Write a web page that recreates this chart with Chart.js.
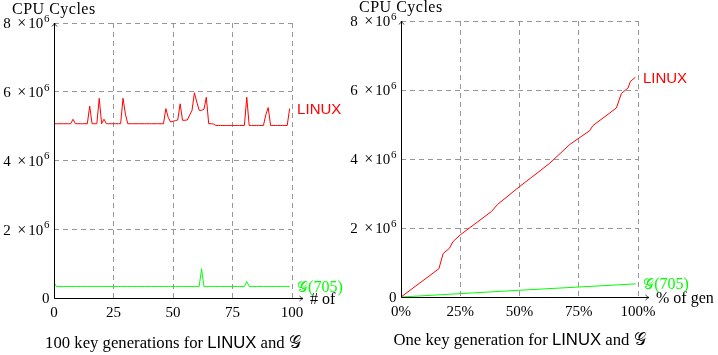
<!DOCTYPE html>
<html><head><meta charset="utf-8">
<script src="https://cdn.jsdelivr.net/npm/chart.js@4.4.1/dist/chart.umd.min.js"></script>
<style>
html,body{margin:0;padding:0;background:#fff;width:718px;height:355px;overflow:hidden}
canvas{position:absolute;top:0}
#c1{left:0}
#c2{left:345px}
</style></head><body>
<canvas id="c1" width="345" height="355"></canvas>
<canvas id="c2" width="373" height="355"></canvas>
<script>
// ---------- DATA (CPU cycles, in millions) ----------
// Left: 100 key generations, index 0..99
const linuxRepeatedMillions = [
  5.07,5.07,5.07,5.07,5.07,5.07,5.07,5.07,5.20,5.07,
  5.07,5.07,5.07,5.07,5.07,5.58,5.07,5.07,5.07,5.81,
  5.07,5.20,5.07,5.07,5.07,5.07,5.07,5.07,5.07,5.81,
  5.35,5.07,5.07,5.07,5.07,5.07,5.07,5.07,5.07,5.07,
  5.07,5.07,5.07,5.07,5.07,5.07,5.07,5.51,5.25,5.12,
  5.14,5.16,5.18,5.65,5.17,5.17,5.18,5.32,5.46,5.97,
  5.70,5.46,5.46,5.49,5.84,5.07,5.07,5.06,5.02,5.02,
  5.02,5.02,5.02,5.02,5.02,5.02,5.02,5.02,5.02,5.02,
  5.02,5.84,5.02,5.02,5.02,5.02,5.02,5.02,5.02,5.33,
  5.54,5.02,5.02,5.02,5.02,5.02,5.02,5.02,5.02,5.51
];
const gRepeatedMillions = [
  0.45,0.336,0.336,0.336,0.336,0.336,0.336,0.336,0.336,0.336,
  0.336,0.336,0.336,0.336,0.336,0.336,0.336,0.336,0.336,0.336,
  0.336,0.336,0.336,0.336,0.336,0.336,0.336,0.336,0.336,0.336,
  0.336,0.336,0.336,0.336,0.336,0.336,0.336,0.336,0.336,0.336,
  0.336,0.336,0.336,0.336,0.336,0.336,0.336,0.336,0.336,0.336,
  0.336,0.336,0.336,0.336,0.336,0.336,0.336,0.336,0.336,0.336,
  0.336,0.336,0.85,0.336,0.336,0.336,0.336,0.336,0.336,0.336,
  0.336,0.336,0.336,0.336,0.336,0.336,0.336,0.336,0.336,0.336,
  0.336,0.48,0.336,0.336,0.336,0.336,0.336,0.336,0.336,0.336,
  0.336,0.336,0.336,0.336,0.336,0.336,0.336,0.336,0.336,0.336
];
// Right: one key generation, % of generation vs cumulative cycles
const linuxOneGenPct      = [0, 16, 17.8, 20.4, 22, 25, 38.2, 40.7, 50, 57.4, 62.8, 71.2, 79.6, 81, 90.9, 93, 95.8, 96.8, 98.9];
const linuxOneGenMillions = [0, 0.82, 1.26, 1.41, 1.61, 1.80, 2.48, 2.68, 3.20, 3.59, 3.88, 4.42, 4.82, 4.97, 5.48, 5.90, 6.06, 6.25, 6.37];
const gOneGenPct      = [0, 46, 99];
const gOneGenMillions = [0, 0.18, 0.38];

const leftXTicks  = [0, 25, 50, 75, 100];
const rightXTicks = ['0%', '25%', '50%', '75%', '100%'];
const yTickMillions = [0, 2, 4, 6, 8];

const seriesNames = ['LINUX', '𝒢(705)'];
const leftCaption  = ['100 key generations for ', 'LINUX', ' and ', '𝒢'];
const rightCaption = ['One key generation for ', 'LINUX', ' and ', '𝒢'];
const yTitle = 'CPU Cycles';
const leftXTitle = '# of';
const rightXTitle = '% of gen';

// ---------- STYLE ----------
const SERIF = '"Liberation Serif", "DejaVu Serif", serif';
const SANS  = '"Liberation Sans", Arial, sans-serif';
const SCRIPT = '"DejaVu Serif", "DejaVu Sans", serif';
const RED = 'rgb(255,0,0)';
const GREEN = 'rgb(0,255,0)';

function segW(ctx, segs){
  let w = 0;
  for (const s of segs){ ctx.font = s.font; w += ctx.measureText(s.text).width + (s.dx||0); }
  return w;
}
function drawRich(ctx, segs, x, y, align){
  const w = segW(ctx, segs);
  let cx = align === 'center' ? x - w/2 : align === 'right' ? x - w : x;
  for (const s of segs){
    ctx.font = s.font;
    ctx.fillStyle = s.color || '#000';
    cx += (s.dx||0);
    ctx.fillText(s.text, cx, y + (s.dy||0));
    cx += ctx.measureText(s.text).width;
  }
}

function decorPlugin(opts){
  return {
    id: 'decor',
    afterDraw(chart){
      const {ctx, chartArea: a, scales: {y}} = chart;
      ctx.save();
      // axes with arrows
      ctx.strokeStyle = '#000';
      ctx.lineWidth = 1;
      const L = Math.round(a.left) + 0.5, B = Math.round(a.bottom) + 0.5, T = a.top;
      const tipX = a.right + 11;
      ctx.beginPath();
      ctx.moveTo(L, B); ctx.lineTo(L, T);
      ctx.moveTo(L, B); ctx.lineTo(tipX, B);
      ctx.stroke();
      ctx.lineWidth = 0.8;
      ctx.beginPath();
      ctx.moveTo(L - 2.5, T + 3.5); ctx.quadraticCurveTo(L - 0.5, T + 1.5, L, T); ctx.quadraticCurveTo(L + 0.5, T + 1.5, L + 2.5, T + 3.5);
      ctx.moveTo(tipX - 3.5, B - 2.5); ctx.quadraticCurveTo(tipX - 1.5, B - 0.5, tipX, B); ctx.quadraticCurveTo(tipX - 1.5, B + 0.5, tipX - 3.5, B + 2.5);
      ctx.stroke();

      ctx.textBaseline = 'alphabetic';
      // y tick labels
      const F = '15px ' + SERIF, FX = '16px ' + SERIF, FS = '11px ' + SERIF;
      yTickMillions.forEach(m => {
        const py = y.getPixelForValue(m * 1e6) + 5.3;
        const segs = m === 0 ? [{text: '0', font: F}] :
          [{text: String(m), font: F}, {text: '×', font: FX, dx: 6.5}, {text: '10', font: F, dx: 2}, {text: '6', font: FS, dx: 0.8, dy: -6.5}];
        drawRich(ctx, segs, a.left - 4.5, py, 'right');
      });
      // y title
      ctx.font = '16px ' + SERIF; ctx.fillStyle = '#000'; ctx.textAlign = 'left';
      ctx.letterSpacing = '0.5px';
      ctx.fillText(yTitle, opts.titleX, opts.titleY);
      ctx.letterSpacing = '0px';
      // x title
      ctx.fillText(opts.xTitle, tipX + 7, B + 5);
      // series end labels
      chart.data.datasets.forEach((ds, i) => {
        const pts = chart.getDatasetMeta(i).data;
        const p = pts[pts.length - 1];
        const segs = i === 0 ? [{text: seriesNames[0], font: '15px ' + SANS, color: RED}]
          : [{text: '𝒢', font: '15px ' + SCRIPT, color: GREEN}, {text: '(705)', font: '16px ' + SERIF, color: GREEN}];
        drawRich(ctx, segs, p.x + 7.5, p.y + 5.5, 'left');
      });
      // caption
      const cap = opts.caption;
      const CF = '16.7px ' + SERIF;
      drawRich(ctx, [
        {text: cap[0], font: CF},
        {text: cap[1], font: '16.7px ' + SANS},
        {text: cap[2], font: CF},
        {text: cap[3], font: '16.7px ' + SCRIPT}
      ], (a.left + a.right) / 2, opts.captionY, 'center');
      ctx.restore();
    }
  };
}

function makeChart(id, datasets, box, xCallback, opts){
  return new Chart(document.getElementById(id), {
    type: 'line',
    data: { datasets },
    options: {
      responsive: false, animation: false, devicePixelRatio: 1,
      layout: { padding: { left: 0, top: box.top, right: box.right, bottom: 0 } },
      plugins: { legend: { display: false }, tooltip: { enabled: false } },
      elements: { point: { radius: 0 }, line: { borderWidth: 1, tension: 0 } },
      scales: {
        x: {
          type: 'linear', min: 0, max: 100,
          afterFit(s){ s.height = box.xh; },
          afterBuildTicks(s){ s.ticks = leftXTicks.map(v => ({ value: v })); },
          grid: { color: 'rgba(140,140,140,0.9)', lineWidth: 1, drawTicks: false },
          border: { display: false, dash: [5, 4] },
          ticks: { padding: 6, color: '#000', font: { family: SERIF, size: 15 }, maxRotation: 0, autoSkip: false, callback: xCallback }
        },
        y: {
          min: 0, max: 8e6,
          afterFit(s){ s.width = box.left; },
          afterBuildTicks(s){ s.ticks = yTickMillions.map(v => ({ value: v * 1e6 })); },
          grid: { color: 'rgba(140,140,140,0.9)', lineWidth: 1, drawTicks: false },
          border: { display: false, dash: [5, 4] },
          ticks: { display: false }
        }
      }
    },
    plugins: [decorPlugin(opts)]
  });
}

makeChart('c1', [
  { data: linuxRepeatedMillions.map((v, i) => ({ x: i, y: v * 1e6 })), borderColor: RED },
  { data: gRepeatedMillions.map((v, i) => ({ x: i, y: v * 1e6 })), borderColor: GREEN }
], { left: 54, top: 23, right: 53, xh: 57 }, (v, i) => String(leftXTicks[i]),
   { titleX: 12, titleY: 14, xTitle: leftXTitle, caption: leftCaption, captionY: 348 });

makeChart('c2', [
  { data: linuxOneGenPct.map((p, i) => ({ x: p, y: linuxOneGenMillions[i] * 1e6 })), borderColor: RED },
  { data: gOneGenPct.map((p, i) => ({ x: p, y: gOneGenMillions[i] * 1e6 })), borderColor: GREEN }
], { left: 56, top: 21, right: 80, xh: 58 }, (v, i) => rightXTicks[i],
   { titleX: 14, titleY: 12, xTitle: rightXTitle, caption: rightCaption, captionY: 345 });
</script>
</body></html>
